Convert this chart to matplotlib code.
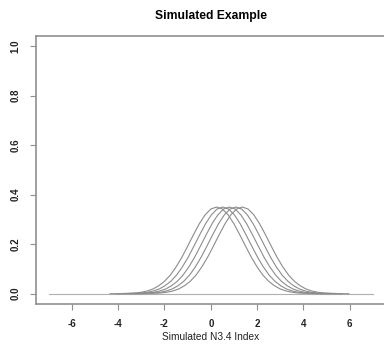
import numpy as np
import matplotlib
matplotlib.use("Agg")
import matplotlib.pyplot as plt

# Perfil de una curva (altura vs. distancia al centro)
offsets = [-4.5, -4.25, -4.0, -3.75, -3.5, -3.25, -3.0, -2.75, -2.5, -2.25, -2.0,
           -1.75, -1.5, -1.25, -1.0, -0.75, -0.5, -0.25, 0.0, 0.25, 0.5, 0.75,
           1.0, 1.25, 1.5, 1.75, 2.0, 2.25, 2.5, 2.75, 3.0, 3.25, 3.5, 3.75,
           4.0, 4.25, 4.5]
profile = [0.000, 0.000, 0.001, 0.002, 0.003, 0.006, 0.011, 0.019, 0.032, 0.050, 0.075,
           0.108, 0.147, 0.192, 0.238, 0.282, 0.318, 0.342, 0.350, 0.342, 0.318, 0.282,
           0.238, 0.192, 0.147, 0.108, 0.075, 0.050, 0.032, 0.019, 0.011, 0.006, 0.003,
           0.002, 0.001, 0.000, 0.000]

# Centros de las cinco curvas y sus extremos
centers = [0.25, 0.52, 0.80, 1.08, 1.36]
x_start = [-4.35, -4.08, -3.80, -3.52, -3.24]
x_end = [4.85, 5.13, 5.40, 5.68, 5.96]

# Línea base que cubre todo el rango
base_x = [-7, 7]
base_y = [0, 0]

xticks = [-6, -4, -2, 0, 2, 4, 6]
yticks = [0.0, 0.2, 0.4, 0.6, 0.8, 1.0]

plt.rcParams['font.family'] = ['Liberation Sans', 'DejaVu Sans']

fig = plt.figure(figsize=(3.84, 3.51), dpi=100)
ax = fig.add_axes([0.093, 0.135, 0.912, 0.762])

line_color = "#8c8c8c"
ax.plot(base_x, base_y, color="#b0b0b0", lw=0.8)
for c, xs, xe in zip(centers, x_start, x_end):
    xx = [xs] + [c + o for o in offsets] + [xe]
    yy = [0.0] + profile + [0.0]
    xx = np.clip(xx, xs, xe)
    ax.plot(xx, yy, color=line_color, lw=0.8)

ax.set_xlim(-7.56, 7.56)
ax.set_ylim(-0.04, 1.04)
ax.set_xticks(xticks)
ax.set_yticks(yticks)
ax.set_xticklabels([str(t) for t in xticks], fontsize=7, fontweight="bold", color="#222222")
ax.set_yticklabels([f"{t:.1f}" for t in yticks], fontsize=7, fontweight="bold", color="#222222",
                   rotation=90, va="center")
ax.tick_params(axis="both", direction="out", length=4, width=0.8, color="#909090")
ax.tick_params(axis="x", pad=7)
ax.tick_params(axis="y", pad=7)
for sp in ax.spines.values():
    sp.set_color("#909090")
    sp.set_linewidth(1.2)

ax.set_title("Simulated Example", fontsize=8.7, fontweight="bold", pad=12)
ax.set_xlabel("Simulated N3.4 Index", fontsize=7.3, labelpad=2, color="#222222")

fig.savefig("out.png", dpi=100)
